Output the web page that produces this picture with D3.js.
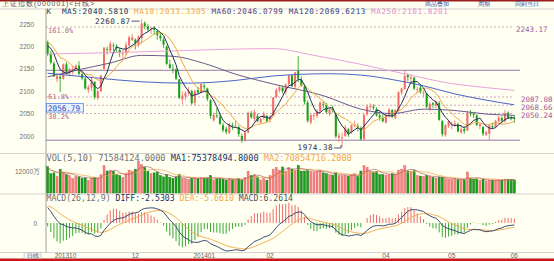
<!DOCTYPE html>
<html>
<head>
<meta charset="utf-8">
<script src="https://cdn.jsdelivr.net/npm/d3@7"></script>
<style>
  body { margin: 0; background: #fff; }
  svg { display: block; }
</style>
</head>
<body>
<div id="chart"></div>
<script>
const width = 554;
const height = 261;

// month labels on the date axis: [candle index, label]
const monthTicks = [[0, '201310'], [28, '12'], [50, '201401'], [71, '02'], [108, '04'], [129, '05'], [149, '06']];

// the 9 closes before the first candle (warm-up for MA5 / MA10)
const priorCloses = [2191, 2228, 2238, 2233, 2183, 2192, 2193, 2229, 2210];

// daily open, high, low, close  (2013-10-23 .. 2014-06-03)
const ohlc = [
  [2210,2213,2178,2183],[2183,2190,2160,2164],[2162,2166,2132,2133],[2127,2140,2120,2133],[2132,2138,2098,2128],
  [2128,2162,2125,2160],[2160,2165,2138,2141],[2140,2152,2133,2149],[2147,2157,2137,2149],[2150,2160,2145,2157],
  [2157,2167,2135,2139],[2138,2142,2125,2129],[2128,2131,2104,2106],[2103,2114,2096,2109],[2108,2130,2100,2126],
  [2121,2122,2082,2087],[2085,2103,2080,2100],[2100,2136,2098,2135],[2150,2199,2148,2197],[2194,2200,2182,2193],
  [2190,2212,2185,2206],[2202,2208,2190,2201],[2200,2205,2186,2196],[2192,2197,2176,2185],[2182,2192,2172,2184],
  [2185,2210,2180,2203],[2202,2224,2200,2220],[2214,2228,2212,2220],[2215,2218,2193,2207],[2203,2225,2198,2222],
  [2218,2260.87,2205,2251],[2252,2256,2238,2245],[2245,2250,2232,2238],[2236,2243,2228,2238],[2240,2245,2226,2237],
  [2234,2237,2215,2225],[2224,2230,2212,2218],[2215,2220,2196,2204],[2200,2202,2158,2161],[2160,2170,2150,2152],
  [2150,2160,2140,2149],[2148,2152,2125,2128],[2126,2127,2082,2085],[2082,2100,2071,2090],[2088,2100,2080,2096],
  [2096,2109,2090,2101],[2100,2104,2070,2073],[2074,2103,2068,2101],[2102,2110,2094,2097],[2097,2118,2095,2116],
  [2112,2117,2102,2109],[2106,2108,2078,2083],[2080,2082,2038,2045],[2035,2052,2032,2047],[2046,2063,2040,2044],
  [2043,2052,2025,2027],[2024,2030,2008,2013],[2016,2021,2004,2009],[2007,2029,2004,2027],[2024,2030,2014,2023],
  [2022,2035,2018,2023],[2020,2024,1998,2004],[2000,2005,1984.8,1991],[1990,2010,1988,2008],[2007,2055,2006,2052],
  [2051,2056,2038,2042],[2038,2059,2032,2054],[2045,2050,2030,2033],[2030,2042,2028,2038],[2040,2055,2036,2049],
  [2045,2047,2031,2033],[2036,2046,2030,2044],[2045,2087,2043,2086],[2086,2107,2085,2103],[2102,2114,2097,2109],
  [2108,2112,2095,2100],[2098,2117,2092,2115],[2116,2136,2113,2135],[2135,2138,2110,2111],[2110,2143,2105,2142],
  [2145,2178,2120,2128],[2125,2133,2110,2113],[2110,2112,2070,2076],[2075,2080,2030,2034],[2030,2048,2026,2047],
  [2046,2052,2035,2047],[2045,2060,2040,2056],[2055,2078,2050,2075],[2072,2078,2062,2071],[2070,2074,2050,2053],
  [2050,2062,2045,2059],[2060,2068,2052,2057],[2050,2052,1995,1999],[1996,2008,1987,2001],[1995,2007,1974.38,1997],
  [2000,2025,1998,2019],[2015,2018,1998,2004],[2008,2026,2005,2024],[2025,2034,2020,2025],[2022,2028,2010,2021],
  [2018,2022,1990,1993],[1993,2050,1990,2047],[2048,2070,2045,2066],[2065,2073,2058,2067],[2066,2071,2058,2063],
  [2060,2064,2043,2046],[2046,2055,2034,2041],[2040,2048,2030,2033],[2030,2050,2028,2047],[2046,2063,2040,2059],
  [2058,2060,2040,2043],[2040,2060,2038,2058],[2057,2100,2055,2098],[2097,2108,2092,2106],[2105,2146.72,2103,2134],
  [2136,2140,2122,2131],[2128,2138,2120,2131],[2130,2132,2103,2106],[2104,2110,2095,2105],[2108,2114,2095,2098],
  [2095,2102,2088,2097],[2095,2096,2062,2065],[2060,2075,2055,2072],[2073,2076,2063,2070],[2068,2080,2062,2076],
  [2074,2078,2034,2036],[2033,2036,1999,2004],[2002,2026,1998,2024],[2022,2036,2018,2033],[2026,2032,2015,2027],
  [2025,2035,2020,2028],[2026,2030,2008,2010],[2008,2025,2005,2015],[2015,2022,2005,2011],[2012,2055,2011,2052],
  [2051,2058,2044,2050],[2050,2052,2040,2047],[2046,2048,2022,2025],[2022,2030,2015,2026],[2020,2022,2000,2005],
  [2003,2012,2000,2008],[2005,2026,1991,2024],[2022,2030,2015,2021],[2020,2036,2018,2034],[2033,2045,2030,2041],
  [2040,2044,2030,2034],[2033,2058,2030,2051],[2052,2055,2038,2040],[2040,2045,2035,2039],[2040,2047,2030,2038]
];

// daily volume, 万手
const volumes = [
  14300,10500,11000,9000,13000,11200,10000,9500,8000,9000,
  8800,8000,8200,7000,8200,8500,7800,10000,15000,12000,
  12500,11800,10000,9500,8500,10500,12500,12000,13000,17400,
  15500,14000,11800,10500,11000,11500,9500,8800,10000,8500,
  8000,8800,10000,8200,7800,7500,8000,8500,7800,8500,
  8000,8200,9500,7200,7800,8000,7500,7000,8000,7200,
  7400,7800,7000,8500,11800,9500,10000,8800,7200,8000,
  7000,9500,13000,14000,12500,14200,12000,14000,13000,12500,
  15000,12000,12000,12200,11800,11500,12000,12500,11000,10500,
  10000,9800,11000,9500,9500,9600,9200,10000,10500,9000,
  12000,15000,14000,12000,11500,11800,10000,10000,9800,10000,
  10500,10200,12500,13000,15000,12000,11800,12200,9500,9200,
  9000,9500,9200,8500,8200,8700,8600,7800,7600,7500,
  7700,7300,7400,7200,11500,7800,7500,7600,7000,7500,
  6600,7000,6800,7000,7200,7100,7600,7500,7400,7158
];

// long moving averages: [candle index, value]
const ma60Pts = [[0,2132],[10,2148],[20,2163],[30,2180],[40,2178],[50,2162],[60,2138],[72,2116],[88,2090],[100,2060],[110,2050],[120,2060],[130,2057],[140,2049],[149,2046.08]];
const ma120Pts = [[0,2140],[15,2130],[30,2121],[45,2118],[60,2124],[72,2134],[90,2139],[100,2136],[110,2126],[120,2112],[130,2094],[140,2080],[149,2069.62]];
const ma250Pts = [[0,2183],[20,2186],[40,2190],[60,2194],[72,2195],[85,2180],[100,2160],[115,2137],[129,2117],[140,2108],[149,2101.82]];

// fibonacci levels
const fibPcts = ['161.8%', '100%', '61.8%', '50%', '38.2%', '0%'];
const fibValues = [2243.17, 2146.72, 2087.08, 2068.66, 2050.24, 1990.63];

const macdSeed = { ema12: 2220, ema26: 2193, dea: 25 };

const cursorValue = 2056.79;

const mono = "'DejaVu Sans Mono', monospace";
const sans = "'Liberation Sans', Arial, sans-serif";
const upColor = '#f26c6c', downColor = '#18a018';

const svg = d3.select('#chart').append('svg')
  .attr('width', width)
  .attr('height', height);

svg.append('rect').attr('width', width).attr('height', height).attr('fill', '#fffff2');
svg.append('rect').attr('width', width).attr('height', 1.5).attr('fill', '#9a1c1c');
svg.append('rect').attr('y', 258.5).attr('width', width).attr('height', 2.5).attr('fill', '#c8161a');

// scales
const x = d3.scaleBand().domain(d3.range(ohlc.length)).range([46, 516]).paddingInner(0.35).paddingOuter(0.2);
const xc = i => x(i) + x.bandwidth() / 2;
const y = d3.scaleLinear().domain([2000, 2250]).range([136, 24]);
const yVol = d3.scaleLinear().domain([0, 12000]).range([193, 171]);

// indicators
const closes = ohlc.map(d => d[3]);
const allCloses = priorCloses.concat(closes);
const avg = (arr, n, start) => d3.range(start, arr.length).map(i => d3.mean(arr.slice(Math.max(0, i - n + 1), i + 1)));
const ma5 = avg(allCloses, 5, priorCloses.length);
const ma10 = avg(allCloses, 10, priorCloses.length);
const volMa5 = avg(volumes, 5, 0);
const volMa10 = avg(volumes, 10, 0);

let e12 = macdSeed.ema12, e26 = macdSeed.ema26, dea = macdSeed.dea;
const macd = closes.map(c => {
  e12 = e12 * 11 / 13 + c * 2 / 13;
  e26 = e26 * 25 / 27 + c * 2 / 27;
  const diff = e12 - e26;
  dea = dea * 0.8 + diff * 0.2;
  return { diff: diff, dea: dea, bar: 2 * (diff - dea) };
});
const macdLow = d3.min(macd, d => Math.min(d.diff, d.dea, d.bar));
const yMacd = d3.scaleLinear().domain([macdLow, 0]).range([251, 223]);

// frame lines
svg.append('line').attr('x1', 46).attr('x2', 46).attr('y1', 9).attr('y2', 253).attr('stroke', '#a0a0a0');
[9, 153.5, 194, 252.5].forEach(v => {
  svg.append('line').attr('x1', 0).attr('x2', width).attr('y1', v).attr('y2', v).attr('stroke', '#c8c8c8').attr('stroke-width', 0.8);
});

// title row
svg.append('text').attr('x', 2).attr('y', 5.8).attr('font-size', 6.8).attr('letter-spacing', 1).attr('font-family', sans).attr('fill', '#505050')
  .text('上证指数(000001)<日线>');
[['商品叠加', 425], ['周期', 478], ['回到当日', 515]].forEach(([t, px]) => {
  svg.append('text').attr('x', px).attr('y', 5.8).attr('font-size', 6.3).attr('font-family', sans).attr('fill', '#3050a0').text(t);
});

// left axes
function leftAxis(scale, ticks, fmt) {
  const g = svg.append('g').attr('transform', 'translate(46,0)')
    .call(d3.axisLeft(scale).tickValues(ticks).tickSize(0).tickPadding(12).tickFormat(fmt));
  g.select('.domain').remove();
  g.selectAll('text').attr('font-size', 6.5).attr('font-family', sans).attr('fill', '#707070');
  return g;
}
leftAxis(y, [2000, 2050, 2100, 2150, 2200, 2250], d3.format('d'));
leftAxis(yVol, [12000], d => d + '万').selectAll('text').attr('dx', 6);
leftAxis(yMacd, [0], d3.format('d')).selectAll('text').attr('dx', 3);

// fibonacci lines
const fibG = svg.append('g');
fibValues.forEach((v, i) => {
  const solid = fibPcts[i] === '100%' || fibPcts[i] === '0%';
  fibG.append('line')
    .attr('x1', 46).attr('x2', solid ? 520 : 514)
    .attr('y1', y(v)).attr('y2', y(v))
    .attr('stroke', solid ? '#9478a8' : '#c090b0')
    .attr('stroke-width', solid ? 1 : 0.8)
    .attr('stroke-dasharray', solid ? null : '2,2');
  if (!solid && fibPcts[i] !== '50%') {
    const off = fibPcts[i] === '61.8%' ? 0 : 3;
    fibG.append('text').attr('x', 48).attr('y', y(v) + off).attr('dy', '0.35em')
      .attr('font-size', 7).attr('font-family', mono).attr('fill', '#b86a90').text(fibPcts[i]);
  }
  if (!solid) {
    fibG.append('text').attr('x', i === 0 ? 516 : 521).attr('y', y(v) + 2).attr('dy', '0.35em')
      .attr('font-size', 7.5).attr('font-family', mono).attr('fill', '#a05aa0').text(v.toFixed(2));
  }
});

// candles
const candles = svg.append('g').selectAll('g').data(ohlc).join('g');
candles.append('line')
  .attr('x1', (d, i) => xc(i)).attr('x2', (d, i) => xc(i))
  .attr('y1', d => y(d[1])).attr('y2', d => y(d[2]))
  .attr('stroke', d => d[3] >= d[0] ? upColor : downColor).attr('stroke-width', 0.8);
candles.append('rect')
  .attr('x', (d, i) => x(i)).attr('width', x.bandwidth())
  .attr('y', d => y(Math.max(d[0], d[3])))
  .attr('height', d => Math.max(0.8, Math.abs(y(d[0]) - y(d[3]))))
  .attr('fill', d => d[3] >= d[0] ? upColor : downColor);

// moving averages
const idxLine = vals => d3.line().x((d, i) => xc(i)).y(d => y(d))(vals);
const ptsLine = d3.line().x(p => xc(p[0])).y(p => y(p[1])).curve(d3.curveMonotoneX);
const maG = svg.append('g').attr('fill', 'none');
maG.append('path').attr('d', ptsLine(ma250Pts)).attr('stroke', '#eaa2dc').attr('stroke-width', 1);
maG.append('path').attr('d', ptsLine(ma120Pts)).attr('stroke', '#4a64c8').attr('stroke-width', 1);
maG.append('path').attr('d', ptsLine(ma60Pts)).attr('stroke', '#6c5a8c').attr('stroke-width', 1);
maG.append('path').attr('d', idxLine(ma10)).attr('stroke', '#f0a848').attr('stroke-width', 1);
maG.append('path').attr('d', idxLine(ma5)).attr('stroke', '#22305e').attr('stroke-width', 1);

// high / low marks
const hiIdx = d3.maxIndex(ohlc, d => d[1]);
const loIdx = d3.minIndex(ohlc, d => d[2]);
const hiY = y(ohlc[hiIdx][1]), loY = y(ohlc[loIdx][2]);
svg.append('text').attr('x', xc(hiIdx) - 11).attr('y', hiY + 2).attr('dy', '0.35em').attr('text-anchor', 'end')
  .attr('font-size', 7.6).attr('letter-spacing', 0.5).attr('font-family', mono).attr('fill', '#2a2a50').text(ohlc[hiIdx][1].toFixed(2));
svg.append('path').attr('d', `M${xc(hiIdx) - 10},${hiY + 2}H${xc(hiIdx) - 2}`).attr('stroke', '#2a2a50').attr('stroke-width', 0.8);
svg.append('text').attr('x', xc(loIdx) - 9).attr('y', loY).attr('dy', '0.35em').attr('text-anchor', 'end')
  .attr('font-size', 7.6).attr('letter-spacing', 0.5).attr('font-family', mono).attr('fill', '#2a2a50').text(ohlc[loIdx][2].toFixed(2));
svg.append('path').attr('d', `M${xc(loIdx) - 8},${loY + 0.5}H${xc(loIdx) - 1}V${loY - 2.5}`).attr('fill', 'none').attr('stroke', '#2a2a50').attr('stroke-width', 0.8);

// cursor value box
svg.append('rect').attr('x', 46.5).attr('y', y(cursorValue) - 7).attr('width', 37).attr('height', 8.5)
  .attr('fill', '#e6f0ff').attr('stroke', '#5a88e0').attr('stroke-width', 0.8);
svg.append('text').attr('x', 48).attr('y', y(cursorValue) - 2.7).attr('dy', '0.35em')
  .attr('font-size', 7.6).attr('font-family', mono).attr('fill', '#2a50c0').text(cursorValue.toFixed(2));

// legends
function legend(ly, size, spacing, parts) {
  const t = svg.append('text').attr('x', 46.5).attr('y', ly).attr('font-size', size).attr('letter-spacing', spacing)
    .attr('font-family', mono).attr('xml:space', 'preserve');
  parts.forEach(([s, c]) => t.append('tspan').attr('fill', c).text(s));
}
legend(14.2, 7.6, 0.58, [['K  ', '#404040'], ['MA5:2040.5810 ', '#22305e'], ['MA10:2033.3305 ', '#f0a848'],
  ['MA60:2046.0799 ', '#5a3e80'], ['MA120:2069.6213 ', '#30408c'], ['MA250:2101.8201', '#e48ad4']]);
legend(161, 8.6, 0, [['VOL(5,10) 71584124.0000 ', '#707070'], ['MA1:75378494.8000 ', '#22305e'], ['MA2:70854716.2000', '#f0a848']]);
legend(200.5, 8.2, 0, [['MACD(26,12,9) ', '#707070'], ['DIFF:-2.5303 ', '#22305e'], ['DEA:-5.6610 ', '#f0a848'], ['MACD:6.2614', '#505050']]);

// volume
svg.append('g').selectAll('rect').data(volumes).join('rect')
  .attr('x', (d, i) => x(i)).attr('width', x.bandwidth())
  .attr('y', d => yVol(d)).attr('height', d => yVol(0) - yVol(d))
  .attr('fill', (d, i) => ohlc[i][3] >= ohlc[i][0] ? '#f38080' : '#14a014')
  .attr('stroke', (d, i) => ohlc[i][3] >= ohlc[i][0] ? '#e86060' : '#0a6a0a').attr('stroke-width', 0.4);
const volLine = d3.line().x((d, i) => xc(i)).y(d => yVol(d));
svg.append('path').attr('d', volLine(volMa10)).attr('fill', 'none').attr('stroke', '#f0a848').attr('stroke-width', 0.7);
svg.append('path').attr('d', volLine(volMa5)).attr('fill', 'none').attr('stroke', '#a05060').attr('stroke-width', 0.6);

// MACD
svg.append('g').selectAll('line').data(macd).join('line')
  .attr('x1', (d, i) => xc(i)).attr('x2', (d, i) => xc(i))
  .attr('y1', yMacd(0)).attr('y2', d => yMacd(d.bar))
  .attr('stroke', d => d.bar >= 0 ? '#ee5a5a' : '#22a022').attr('stroke-width', 0.9);
const macdLine = key => d3.line().x((d, i) => xc(i)).y(d => yMacd(d[key]))(macd);
svg.append('path').attr('d', macdLine('dea')).attr('fill', 'none').attr('stroke', '#f0a848').attr('stroke-width', 0.9);
svg.append('path').attr('d', macdLine('diff')).attr('fill', 'none').attr('stroke', '#2a3a66').attr('stroke-width', 0.9);

// date axis
const dateG = svg.append('g');
monthTicks.forEach(([i, label], k) => {
  dateG.append('text').attr('x', k === 0 ? xc(i) + 7 : xc(i)).attr('y', 258)
    .attr('text-anchor', k === 0 ? 'start' : 'middle')
    .attr('font-size', 6.5).attr('font-family', sans).attr('fill', '#606060').text(label);
});
dateG.append('rect').attr('x', 24).attr('y', 252.5).attr('width', 17).attr('height', 6).attr('fill', '#f0f0f0').attr('stroke', '#b0b0b0').attr('stroke-width', 0.5);
dateG.append('text').attr('x', 32.5).attr('y', 257.8).attr('text-anchor', 'middle')
  .attr('font-size', 6).attr('font-family', sans).attr('fill', '#606060').text('日线');
</script>
</body>
</html>
